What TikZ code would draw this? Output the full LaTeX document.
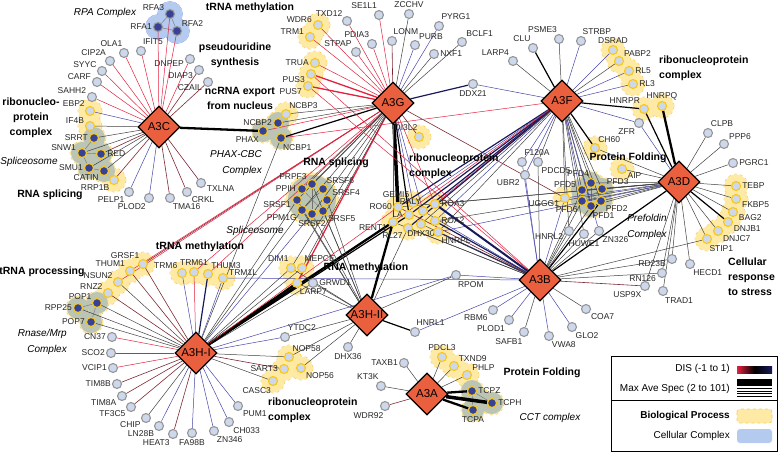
\documentclass[tikz,border=0pt]{standalone}
\usepackage{fontspec}
\setmainfont{Liberation Sans}
\usepackage{tikz}
\usetikzlibrary{shapes.geometric}
\pgfdeclarelayer{blobs}
\pgfdeclarelayer{links}
\pgfsetlayers{blobs,links,main}
\definecolor{hubred}{RGB}{234,96,62}
\definecolor{preyfill}{RGB}{205,216,236}
\definecolor{preyring}{RGB}{150,150,150}
\definecolor{bpring}{RGB}{250,200,20}
\definecolor{ccfill}{RGB}{55,65,150}
\definecolor{bpfill}{RGB}{255,234,165}
\definecolor{bpline}{RGB}{248,205,90}
\definecolor{ccgray}{RGB}{188,197,180}
\definecolor{cellblue}{RGB}{180,202,238}
\definecolor{linkred}{RGB}{228,32,62}
\definecolor{linkblue}{RGB}{70,70,170}
\definecolor{linknavy}{RGB}{25,25,90}
\definecolor{linkmar}{RGB}{125,40,50}

\begin{document}
\begin{tikzpicture}[x=1pt,y=-1pt,
    hub/.style={diamond,draw,line width=1.3pt,fill=hubred,minimum width=42pt,minimum height=42pt,inner sep=0pt,font=\fontsize{11.5}{12}\selectfont},
    prey/.style={circle,draw=preyring,fill=preyfill,line width=1.1pt,minimum size=9pt,inner sep=0pt},
    bp node/.style={prey,draw=bpring},
    cc node/.style={prey,draw=bpring,fill=ccfill},
    rpa node/.style={prey,fill=ccfill},
    every label/.style={font=\fontsize{8.5}{9}\selectfont,text=black!85,inner sep=1pt},
    group/.style={font=\fontsize{10.5}{15}\selectfont\bfseries,align=center,inner sep=0pt},
    cplx/.style={font=\fontsize{10}{16}\selectfont\itshape,align=center,inner sep=0pt},
    legtext/.style={font=\fontsize{10}{12}\selectfont,inner sep=0pt},
    lr/.style={draw=linkred,line width=0.5pt},
    lrr/.style={draw=linkred,line width=1.3pt},
    lk/.style={draw=black!75,line width=0.5pt},
    lkk/.style={draw=black,line width=1.2pt},
    lK/.style={draw=black,line width=2.3pt},
    lKK/.style={draw=black,line width=3.5pt},
    lb/.style={draw=linkblue,line width=0.5pt},
    lnn/.style={draw=linknavy,line width=1.2pt},
    lN/.style={draw=linknavy,line width=2pt},
    lm/.style={draw=linkmar,line width=0.6pt},
    lg/.style={draw=black!55,line width=0.4pt}]

  \useasboundingbox (0,0) rectangle (778,452);

  \node[hub] (A3C) at (159,127) {A3C};
  \node[hub] (A3G) at (393,103) {A3G};
  \node[hub] (A3F) at (562,101) {A3F};
  \node[hub] (A3D) at (679,182) {A3D};
  \node[hub] (A3B) at (540,280) {A3B};
  \node[hub] (A3HI) at (196,353) {A3H-I};
  \node[hub] (A3HII) at (367,315) {A3H-II};
  \node[hub] (A3A) at (427,394) {A3A};

  \node[rpa node, label=160:RFA3] (RFA3) at (170,14) {};
  \node[rpa node, label=180:RFA1] (RFA1) at (158,27) {};
  \node[rpa node, label=45:RFA2] (RFA2) at (177,31) {};
  \node[prey, label=80:IFIT5] (IFIT5) at (141,51) {};
  \node[prey, label=95:OLA1] (OLA1) at (124,53) {};
  \node[prey, label=125:CIP2A] (CIP2A) at (110,61) {};
  \node[prey, label=150:SYYC] (SYYC) at (102,71) {};
  \node[prey, label=165:CARF] (CARF) at (97,82) {};
  \node[prey, label=160:SAHH2] (SAHH2) at (92,97) {};
  \node[bp node, label=145:EBP2] (EBP2) at (90,111) {};
  \node[bp node, label=165:IF4B] (IF4B) at (90,126) {};
  \node[cc node, label=180:SRRT] (SRRT) at (94,138) {};
  \node[cc node, label=170:SNW1] (SNW1) at (82,153) {};
  \node[cc node, label=0:RED] (RED) at (101,154) {};
  \node[cc node, label=180:SMU1] (SMU1) at (89,168) {};
  \node[cc node, label=213:CATIN] (CATIN) at (104,171) {};
  \node[bp node, label=225:RRP1B] (RRP1B) at (114,180) {};
  \node[prey, label=225:PELP1] (PELP1) at (129,192) {};
  \node[prey, label=245:PLOD2] (PLOD2) at (149,198) {};
  \node[prey, label=290:TMA16] (TMA16) at (170,198) {};
  \node[prey, label=315:CRKL] (CRKL) at (187,192) {};
  \node[prey, label=340:TXLNA] (TXLNA) at (201,183) {};
  \node[prey, label=185:DNPEP] (DNPEP) at (190,59) {};
  \node[prey, label=190:DIAP3] (DIAP3) at (199,70) {};
  \node[prey, label=195:CZAIL] (CZAIL) at (208,82) {};

  \node[prey, label=135:TXD12] (TXD12) at (347,21) {};
  \node[prey, label=100:SE1L1] (SE1L1) at (379,15) {};
  \node[prey, label=90:ZCCHV] (ZCCHV) at (409,14) {};
  \node[prey, label=75:PYRG1] (PYRG1) at (439,26) {};
  \node[prey, label=50:BCLF1] (BCLF1) at (462,42) {};
  \node[bp node, label=170:WDR6] (WDR6) at (318,25) {};
  \node[bp node, label=170:TRM1] (TRM1) at (310,37) {};
  \node[prey, label=130:STPAP] (STPAP) at (356,52) {};
  \node[prey, label=110:PDIA3] (PDIA3) at (372,44) {};
  \node[prey, label=85:LONM] (LONM) at (392,41) {};
  \node[prey, label=55:PURB] (PURB) at (415,45) {};
  \node[prey, label=0:NXF1] (NXF1) at (434,54) {};
  \node[bp node, label=180:TRUA] (TRUA) at (315,63) {};
  \node[bp node, label=190:PUS3] (PUS3) at (311,74) {};
  \node[bp node, label=190:PUS7] (PUS7) at (308,86) {};
  \node[prey, label=270:DDX21] (DDX21) at (473,84) {};
  \node[bp node, label=65:NCBP3] (NCBP3) at (286,114) {};
  \node[cc node, label=180:NCBP2] (NCBP2) at (278,123) {};
  \node[cc node, label=235:PHAX] (PHAX) at (263,131) {};
  \node[cc node, label=280:NCBP1] (NCBP1) at (281,138) {};
  \node[bp node, label=95:DI3L2] (DI3L2) at (419,137) {};

  \node[prey, label=125:LARP4] (LARP4) at (513,61) {};
  \node[prey, label=105:CLU] (CLU) at (533,48) {};
  \node[prey, label=100:PSME3] (PSME3) at (559,39) {};
  \node[prey, label=85:STRBP] (STRBP) at (581,41) {};
  \node[bp node, label=90:DSRAD] (DSRAD) at (613,50) {};
  \node[bp node, label=40:PABP2] (PABP2) at (619,61) {};
  \node[bp node, label=0:RL5] (RL5) at (629,71) {};
  \node[bp node, label=0:RL3] (RL3) at (633,84) {};
  \node[bp node, label=125:HNRPR] (HNRPR) at (644,109) {};
  \node[bp node, label=90:HNRPQ] (HNRPQ) at (662,106) {};
  \node[prey, label=235:ZFR] (ZFR) at (639,123) {};
  \node[bp node, label=65:CH60] (CH60) at (595,148) {};
  \node[prey, label=75:F120A] (F120A) at (522,162) {};
  \node[prey, label=300:PDCD5] (PDCD5) at (538,162) {};
  \node[prey, label=215:UBR2] (UBR2) at (525,175) {};
  \node[bp node, label=200:UGGG1] (UGGG1) at (565,198) {};
  \node[cc node, label=165:PFD5] (PFD5) at (582,190) {};
  \node[cc node, label=100:PFD4] (PFD4) at (591,183) {};
  \node[cc node, label=45:PFD3] (PFD3) at (602,189) {};
  \node[cc node, label=230:PFD6] (PFD6) at (582,201) {};
  \node[cc node, label=275:PFD1] (PFD1) at (591,206) {};
  \node[cc node, label=315:PFD2] (PFD2) at (601,201) {};
  \node[bp node, label=330:AIP] (AIP) at (622,169) {};
  \node[prey, label=200:HNRL2] (HNRL2) at (569,231) {};
  \node[prey, label=270:HUWE1] (HUWE1) at (584,234) {};
  \node[prey, label=300:ZN326] (ZN326) at (599,231) {};

  \node[prey, label=70:CLPB] (CLPB) at (708,133) {};
  \node[prey, label=40:PPP6] (PPP6) at (724,144) {};
  \node[prey, label=0:PGRC1] (PGRC1) at (733,163) {};
  \node[bp node, label=0:TEBP] (TEBP) at (736,186) {};
  \node[bp node, label=345:FKBP5] (FKBP5) at (736,199) {};
  \node[bp node, label=340:BAG2] (BAG2) at (733,212) {};
  \node[bp node, label=335:DNJB1] (DNJB1) at (728,222) {};
  \node[bp node, label=320:DNJC7] (DNJC7) at (718,231) {};
  \node[bp node, label=285:STIP1] (STIP1) at (707,239) {};
  \node[prey, label=185:RD23B] (RD23B) at (672,259) {};
  \node[prey, label=295:HECD1] (HECD1) at (690,264) {};
  \node[prey, label=190:RN126] (RN126) at (662,273) {};
  \node[prey, label=240:USP9X] (USP9X) at (645,286) {};
  \node[prey, label=280:TRAD1] (TRAD1) at (663,291) {};

  \node[prey, label=215:RBM6] (RBM6) at (493,310) {};
  \node[prey, label=235:PLOD1] (PLOD1) at (509,320) {};
  \node[prey, label=265:SAFB1] (SAFB1) at (524,332) {};
  \node[prey, label=290:VWA8] (VWA8) at (549,336) {};
  \node[prey, label=300:GLO2] (GLO2) at (572,327) {};
  \node[prey, label=320:COA7] (COA7) at (586,309) {};
  \node[prey, label=280:RPOM] (RPOM) at (456,275) {};
  \node[prey, label=85:HNRL1] (HNRL1) at (415,332) {};

  \node[cc node, label=180:RPP25] (RPP25) at (78,308) {};
  \node[cc node, label=150:POP1] (POP1) at (97,303) {};
  \node[cc node, label=180:POP7] (POP7) at (91,322) {};
  \node[prey, label=180:CN37] (CN37) at (112,337) {};
  \node[prey, label=180:SCO2] (SCO2) at (111,353) {};
  \node[prey, label=180:VCIP1] (VCIP1) at (113,368) {};
  \node[prey, label=180:TIM8B] (TIM8B) at (117,384) {};
  \node[prey, label=205:TIM8A] (TIM8A) at (122,396) {};
  \node[prey, label=210:TF3C5] (TF3C5) at (131,407) {};
  \node[prey, label=210:CHIP] (CHIP) at (146,418) {};
  \node[prey, label=220:LN28B] (LN28B) at (159,426) {};
  \node[prey, label=245:HEAT3] (HEAT3) at (173,434) {};
  \node[prey, label=270:FA98B] (FA98B) at (192,433) {};
  \node[prey, label=290:ZN346] (ZN346) at (214,431) {};
  \node[prey, label=310:CH033] (CH033) at (229,422) {};
  \node[prey, label=320:PUM1] (PUM1) at (238,406) {};
  \node[bp node, label=120:GRSF1] (GRSF1) at (143,264) {};
  \node[bp node, label=140:THUM1] (THUM1) at (130,271) {};
  \node[bp node, label=150:NSUN2] (NSUN2) at (118,282) {};
  \node[bp node, label=150:RNZ2] (RNZ2) at (108,293) {};
  \node[bp node, label=135:TRM6] (TRM6) at (182,273) {};
  \node[bp node, label=90:TRM61] (TRM61) at (194,272) {};
  \node[bp node, label=65:THUM3] (THUM3) at (208,274) {};
  \node[bp node, label=12:TRM1L] (TRM1L) at (223,278) {};
  \node[bp node, label=105:DIM1] (DIM1) at (291,268) {};
  \node[bp node, label=75:MEPCE] (MEPCE) at (302,268) {};
  \node[bp node, label=290:LARP7] (LARP7) at (297,283) {};
  \node[prey, label=0:GRWD1] (GRWD1) at (313,283) {};
  \node[prey, label=70:YTDC2] (YTDC2) at (285,337) {};
  \node[bp node, label=60:NOP58] (NOP58) at (289,357) {};
  \node[bp node, label=180:SART3] (SART3) at (284,369) {};
  \node[bp node, label=320:NOP56] (NOP56) at (301,368) {};
  \node[bp node, label=260:CASC3] (CASC3) at (273,381) {};
  \node[prey, label=270:DHX36] (DHX36) at (348,347) {};

  \node[prey, label=180:TAXB1] (TAXB1) at (404,363) {};
  \node[prey, label=105:KT3K] (KT3K) at (381,386) {};
  \node[prey, label=265:WDR92] (WDR92) at (385,406) {};
  \node[bp node, label=90:PDCL3] (PDCL3) at (442,357) {};
  \node[bp node, label=45:TXND9] (TXND9) at (454,366) {};
  \node[bp node, label=35:PHLP] (PHLP) at (467,375) {};
  \node[cc node, label=0:TCPZ] (TCPZ) at (472,391) {};
  \node[cc node, label=0:TCPH] (TCPH) at (492,403) {};
  \node[cc node, label=270:TCPA] (TCPA) at (473,410) {};

  \node[cc node, label=145:PRPF3] (PRPF3) at (312,184) {};
  \node[cc node, label=60:SRSF6] (SRSF6) at (323,189) {};
  \node[cc node, label=35:SRSF4] (SRSF4) at (327,200) {};
  \node[cc node, label=320:SRSF5] (SRSF5) at (323,211) {};
  \node[cc node, label=270:SRSF2] (SRSF2) at (312,214) {};
  \node[cc node, label=215:PPM1G] (PPM1G) at (302,210) {};
  \node[cc node, label=185:SRSF1] (SRSF1) at (297,200) {};
  \node[cc node, label=180:PPIH] (PPIH) at (302,189) {};

  \node[bp node, label=180:RO60] (RO60) at (398,207) {};
  \node[bp node, label=120:GEMI5] (GEMI5) at (413,203) {};
  \node[bp node, label=180:LA] (LA) at (409,215) {};
  \node[bp node, label=95:RALY] (RALY) at (423,211) {};
  \node[bp node, label=0:ROA3] (ROA3) at (435,204) {};
  \node[bp node, label=195:RENT1] (RENT1) at (393,222) {};
  \node[bp node, label=215:RL27] (RL27) at (408,228) {};
  \node[bp node, label=270:DHX30] (DHX30) at (421,224) {};
  \node[bp node, label=0:ROA2] (ROA2) at (435,221) {};
  \node[bp node, label=300:HNRPL] (HNRPL) at (438,232) {};

  \coordinate (splc) at (312,199);
  \coordinate (pfdc) at (592,195);
  \coordinate (cctc) at (481,401);

  \node[group] (gTrmTop) at (250,8) {tRNA methylation};
  \node[group] (gPseudo) at (235,55) {pseudouridine\\synthesis};
  \node[group] (gExport) at (240,98) {ncRNA export\\from nucleus};
  \node[group] (gRnpC) at (31,118) {ribonucleo-\\protein\\complex};
  \node[group] (gSplC) at (50,195) {RNA splicing};
  \node[group, anchor=west, align=left] (gRnpG) at (409,166) {ribonucleoprotein\\complex};
  \node[group, anchor=west, align=left] (gRnpF) at (659,68) {ribonucleoprotein\\complex};
  \node[group] (gFoldF) at (628,158) {Protein Folding};
  \node[group, anchor=west, align=left] (gStress) at (728,277) {Cellular\\response\\to stress};
  \node[group] (gSplM) at (336,163) {RNA splicing};
  \node[group] (gTrmM) at (200,247) {tRNA methylation};
  \node[group] (gTproc) at (42,272) {tRNA processing};
  \node[group] (gRmeth) at (366,268) {RNA methylation};
  \node[group, anchor=west, align=left] (gRnpH) at (268,410) {ribonucleoprotein\\complex};
  \node[group] (gFoldA) at (542,373) {Protein Folding};

  \node[cplx] (cRPA) at (105,13) {RPA Complex};
  \node[cplx] (cSplC) at (29,162) {Spliceosome};
  \node[cplx, anchor=east, align=right] (cPhax) at (262,163) {PHAX-CBC\\Complex};
  \node[cplx] (cSplM) at (255,231) {Spliceosome};
  \node[cplx, anchor=east, align=right] (cRnase) at (67,342) {Rnase/Mrp\\Complex};
  \node[cplx] (cPfd) at (647,227) {Prefoldin\\Complex};
  \node[cplx] (cCCT) at (550,418) {CCT complex};

  \begin{pgfonlayer}{blobs}
    \foreach \n in {WDR6,TRM1,TRUA,PUS3,PUS7,NCBP3,NCBP2,PHAX,NCBP1,EBP2,IF4B,SRRT,SNW1,RED,SMU1,CATIN,RRP1B,DI3L2,
        DSRAD,PABP2,RL5,RL3,HNRPR,HNRPQ,CH60,AIP,UGGG1,PFD5,PFD4,PFD3,PFD6,PFD1,PFD2,pfdc,TEBP,FKBP5,BAG2,DNJB1,DNJC7,STIP1,
        RO60,GEMI5,LA,RALY,ROA3,RENT1,RL27,DHX30,ROA2,HNRPL,PRPF3,SRSF6,SRSF4,SRSF5,SRSF2,PPM1G,SRSF1,PPIH,splc,
        GRSF1,THUM1,NSUN2,RNZ2,POP1,RPP25,POP7,TRM6,TRM61,THUM3,TRM1L,DIM1,MEPCE,LARP7,NOP58,SART3,NOP56,CASC3,
        PDCL3,TXND9,PHLP,TCPZ,TCPH,TCPA,cctc}
      \draw[bpline, dashed, line width=0.7pt] (\n) circle (12);
    \foreach \n in {WDR6,TRM1,TRUA,PUS3,PUS7,NCBP3,NCBP2,PHAX,NCBP1,EBP2,IF4B,SRRT,SNW1,RED,SMU1,CATIN,RRP1B,DI3L2,
        DSRAD,PABP2,RL5,RL3,HNRPR,HNRPQ,CH60,AIP,UGGG1,PFD5,PFD4,PFD3,PFD6,PFD1,PFD2,pfdc,TEBP,FKBP5,BAG2,DNJB1,DNJC7,STIP1,
        RO60,GEMI5,LA,RALY,ROA3,RENT1,RL27,DHX30,ROA2,HNRPL,PRPF3,SRSF6,SRSF4,SRSF5,SRSF2,PPM1G,SRSF1,PPIH,splc,
        GRSF1,THUM1,NSUN2,RNZ2,POP1,RPP25,POP7,TRM6,TRM61,THUM3,TRM1L,DIM1,MEPCE,LARP7,NOP58,SART3,NOP56,CASC3,
        PDCL3,TXND9,PHLP,TCPZ,TCPH,TCPA,cctc}
      \fill[bpfill] (\n) circle (11.6);
    \foreach \n in {SRRT,SNW1,RED,SMU1,CATIN,NCBP2,PHAX,NCBP1,PFD5,PFD4,PFD3,PFD6,PFD1,PFD2,POP1,RPP25,POP7,TCPZ,TCPH,TCPA,cctc}
      \fill[ccgray] (\n) circle (11);
    \fill[ccgray] (splc) circle (24);
    \fill[ccgray] (pfdc) circle (15);
    \foreach \n in {RFA1,RFA2,RFA3}
      \draw[cellblue!85!blue, line width=0.6pt] (\n) circle (12.5);
    \foreach \n in {RFA1,RFA2,RFA3}
      \fill[cellblue] (\n) circle (12.2);
  \end{pgfonlayer}

  \begin{pgfonlayer}{links}
  \path (RFA1) edge[lg] (RFA3) edge[lg] (RFA2)
        (RFA3) edge[lg] (RFA2)
        (SRRT) edge[lg] (SNW1) (SNW1) edge[lg] (RED) edge[lg] (SMU1) (SMU1) edge[lg] (CATIN)
        (PFD5) edge[lg] (PFD2) (PFD4) edge[lg] (PFD1) (PFD3) edge[lg] (PFD6)
        (PRPF3) edge[lg] (SRSF2) (PPIH) edge[lg] (SRSF5) (SRSF6) edge[lg] (PPM1G)
        (RPP25) edge[lg] (POP1) (POP1) edge[lg] (POP7)
        (TCPZ) edge[lg] (TCPA) (TCPZ) edge[lg] (TCPH);

  \path (A3C) edge[lr] (RFA3) edge[lr] (RFA1) edge[lr] (RFA2) edge[lr] (IFIT5) edge[lr] (OLA1)
        edge[lr] (CIP2A) edge[lr] (SYYC) edge[lr] (CARF) edge[lr] (SAHH2) edge[lr] (DNPEP)
        edge[lm] (DIAP3) edge[lm] (CZAIL) edge[lb] (EBP2) edge[lk] (IF4B) edge[lk] (SRRT)
        edge[lk] (SNW1) edge[lm] (RED) edge[lk] (SMU1) edge[lk] (CATIN) edge[lm] (RRP1B)
        edge[lb] (PELP1) edge[lb] (PLOD2) edge[lm] (TMA16) edge[lm] (CRKL) edge[lm] (TXLNA)
        edge[lK] (PHAX);

  \path (A3G) edge[lr] (TXD12) edge[lr] (SE1L1) edge[lk] (ZCCHV) edge[lb] (PYRG1) edge[lk] (BCLF1)
        edge[lr] (WDR6) edge[lr] (TRM1) edge[lr] (STPAP) edge[lr] (PDIA3) edge[lm] (LONM)
        edge[lb] (PURB) edge[lk] (NXF1) edge[lr] (TRUA) edge[lrr] (PUS3) edge[lrr] (PUS7)
        edge[lnn] (DDX21) edge[lk] (NCBP3) edge[lk] (NCBP2) edge[lkk] (NCBP1) edge[lr] (PHAX)
        edge[lm] (DI3L2) edge[lm] (UGGG1) edge[lKK] (RO60) edge[lkk] (LA) edge[lb] (GEMI5)
        edge[lr] (RENT1) edge[lb] (RALY) edge[lr] (ROA3) edge[lm] (GRSF1) edge[lr] (THUM1)
        edge[lr] (NSUN2) edge[lr] (TRM61) edge[lr] (THUM3) edge[lrr] (LARP7) edge[lk] (DIM1)
        edge[lk] (MEPCE) edge[lk] (PRPF3) edge[lk] (PPIH) edge[lk] (SRSF1) edge[lk] (SRSF2)
        edge[lk] (PPM1G);

  \path (A3F) edge[lk] (LARP4) edge[lkk] (CLU) edge[lk] (PSME3) edge[lb] (STRBP) edge[lb] (DSRAD)
        edge[lk] (PABP2) edge[lb] (RL5) edge[lb] (RL3) edge[lkk] (HNRPR) edge[lb] (ZFR)
        edge[lkk] (CH60) edge[lb] (DDX21) edge[lr] (NCBP1) edge[lb] (F120A) edge[lk] (PDCD5)
        edge[lb] (UBR2) edge[lk] (UGGG1) edge[lk] (PFD5) edge[lk] (PFD4) edge[lk] (PFD3)
        edge[lb] (PFD6) edge[lk] (PFD1) edge[lk] (PFD2) edge[lk] (HNRL2) edge[lk] (HUWE1)
        edge[lb] (ZN326) edge[lnn] (RO60) edge[lnn] (LA) edge[lb] (GEMI5) edge[lnn] (RALY)
        edge[lr] (ROA3) edge[lr] (RENT1) edge[lnn] (RL27) edge[lk] (DHX30) edge[lb] (ROA2)
        edge[lk] (HNRPL);

  \path (A3D) edge[lk] (CLPB) edge[lk] (PPP6) edge[lk] (PGRC1) edge[lk] (TEBP) edge[lk] (FKBP5)
        edge[lk] (BAG2) edge[lkk] (DNJB1) edge[lk] (DNJC7) edge[lk] (STIP1) edge[lk] (RD23B)
        edge[lk] (HECD1) edge[lk] (RN126) edge[lk] (USP9X) edge[lk] (TRAD1) edge[lK] (HNRPQ)
        edge[lkk] (HNRPR) edge[lb] (ZFR) edge[lk] (CH60) edge[lk] (AIP) edge[lk] (PFD4)
        edge[lk] (PFD3) edge[lk] (PFD2) edge[lk] (PFD1) edge[lk] (PFD5) edge[lk] (PFD6)
        edge[lb] (UGGG1) edge[lk] (RO60) edge[lk] (ROA3) edge[lk] (ROA2) edge[lb] (HNRPL)
        edge[lkk] (A3B);

  \path (A3B) edge[lb] (RBM6) edge[lb] (PLOD1) edge[lk] (SAFB1) edge[lb] (VWA8) edge[lb] (GLO2)
        edge[lk] (COA7) edge[lb] (RPOM) edge[lb] (HNRL1) edge[lb] (TRM1L) edge[lk] (RD23B)
        edge[lk] (RN126) edge[lm] (USP9X) edge[lk] (STIP1) edge[lr] (PUS3) edge[lr] (PUS7)
        edge[lk] (HNRL2) edge[lk] (HUWE1) edge[lk] (ZN326) edge[lk] (PFD6) edge[lk] (PFD1)
        edge[lk] (PFD5) edge[lkk] (PFD2) edge[lb] (UGGG1) edge[lb] (UBR2) edge[lb] (F120A)
        edge[lk] (PDCD5) edge[lN] (ROA3) edge[lnn] (ROA2) edge[lnn] (HNRPL) edge[lb] (RALY)
        edge[lk] (DHX30) edge[lk] (RL27) edge[lk] (RENT1) edge[lm] (RO60);

  \path (A3HI) edge[lk] (RPP25) edge[lk] (POP1) edge[lk] (POP7) edge[lr] (CN37) edge[lr] (SCO2)
        edge[lr] (VCIP1) edge[lm] (TIM8B) edge[lm] (TIM8A) edge[lm] (TF3C5) edge[lk] (CHIP)
        edge[lb] (LN28B) edge[lm] (HEAT3) edge[lb] (FA98B) edge[lb] (ZN346) edge[lb] (CH033)
        edge[lb] (PUM1) edge[lm] (SART3) edge[lk] (CASC3) edge[lk] (NOP58) edge[lb] (YTDC2)
        edge[lm] (GRSF1) edge[lm] (THUM1) edge[lk] (NSUN2) edge[lm] (RNZ2) edge[lb] (TRM6)
        edge[lr] (TRM61) edge[lnn] (THUM3) edge[lb] (TRM1L) edge[lk] (DIM1) edge[lk] (MEPCE)
        edge[lK] (LARP7) edge[lk] (GRWD1) edge[lK] (RENT1) edge[lr] (RO60) edge[lkk] (LA)
        edge[lk] (PPM1G) edge[lk] (SRSF1) edge[lb] (SRSF2) edge[lk] (NCBP1) edge[lb] (RPOM);

  \path (A3HII) edge[lkk] (HNRL1) edge[lk] (DHX36) edge[lk] (YTDC2) edge[lk] (NOP58) edge[lk] (NOP56)
        edge[lk] (GRWD1) edge[lk] (LARP7) edge[lk] (DIM1) edge[lK] (RENT1) edge[lk] (RL27)
        edge[lk] (SRSF1) edge[lk] (SRSF2) edge[lk] (SRSF5) edge[lk] (PPM1G) edge[lk] (PRPF3)
        edge[lk] (SRSF4) edge[lk] (RPOM);

  \path (A3A) edge[lk] (TAXB1) edge[lk] (KT3K) edge[lm] (WDR92) edge[lk] (PDCL3) edge[lk] (TXND9)
        edge[lk] (PHLP) edge[lK] (TCPZ) edge[lKK] (TCPH) edge[lK] (TCPA);
  \end{pgfonlayer}

  \draw[line width=0.8pt] (611,356) rectangle (777,451.5);
  \draw[line width=0.8pt] (611,400) -- (777,400);
  \node[legtext, anchor=east] (lDis) at (730,369) {DIS (-1 to 1)};
  \shade[left color=linkred, right color=linknavy, middle color=black] (737,366) rectangle (772,373);
  \node[legtext, anchor=east] (lSpec) at (730,389) {Max Ave Spec (2 to 101)};
  \fill (737,379) rectangle (772,385.5);
  \draw[line width=1.4pt] (737,388.6) -- (772,388.6);
  \draw[line width=1.1pt] (737,391.3) -- (772,391.3);
  \draw[line width=0.9pt] (737,393.8) -- (772,393.8);
  \draw[line width=0.7pt] (737,396.2) -- (772,396.2);
  \node[legtext, anchor=east, font=\fontsize{10}{12}\selectfont\bfseries] (lBio) at (730,416) {Biological Process};
  \draw[bpline, dashed, fill=bpfill, rounded corners=3pt, line width=0.7pt] (737,409) rectangle (772,423);
  \node[legtext, anchor=east] (lCell) at (730,436) {Cellular Complex};
  \fill[cellblue, rounded corners=3pt] (737,429) rectangle (772,443);
\end{tikzpicture}
\end{document}
